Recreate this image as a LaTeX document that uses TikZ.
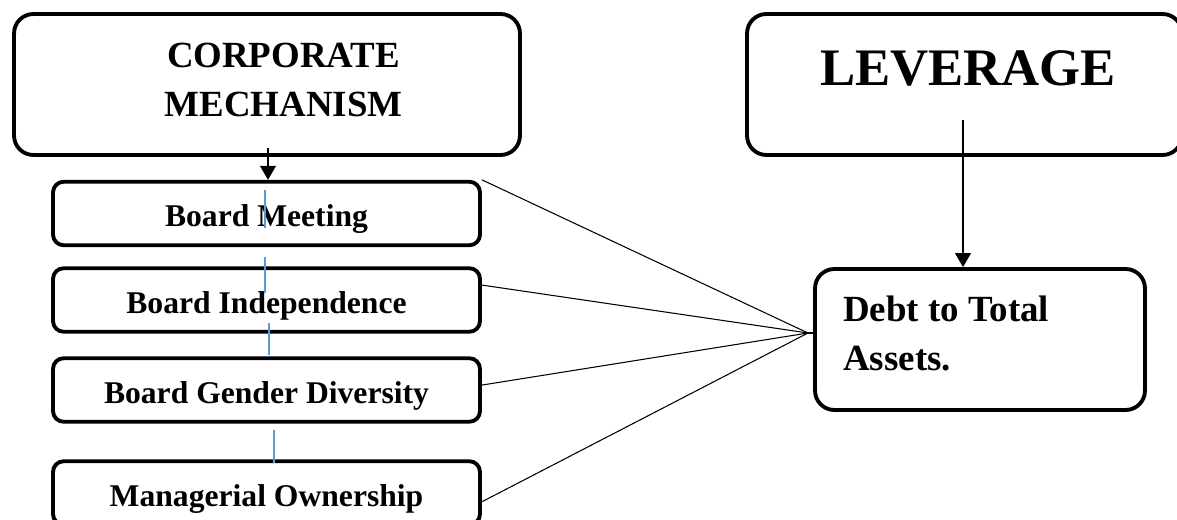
\documentclass[tikz,border=0pt]{standalone}
\usepackage{fontspec}
\setmainfont{Liberation Serif}
\usepackage{xcolor}
\usetikzlibrary{arrows.meta}
\definecolor{guideblue}{RGB}{91,155,213}
\tikzset{
  bigbox/.style={draw,line width=2.2pt,rounded corners=11pt},
  itembox/.style={draw,line width=2.2pt,rounded corners=6pt,minimum width=8.54cm,
    minimum height=1.27cm,inner sep=0pt,text height=15pt,text depth=0pt,
    font=\fontsize{18}{22}\selectfont\bfseries},
  link/.style={line width=0.6pt},
  feed/.style={line width=1.1pt,-{Triangle[width=9pt,length=8pt]}},
  guide/.style={guideblue,line width=0.6pt}
}

\begin{document}
\begin{tikzpicture}[x=0.02cm,y=-0.02cm]
\useasboundingbox (0,0) rectangle (1177,520);
\node[bigbox,minimum width=10.12cm,minimum height=2.82cm] (corp) at (267,84.5) {};
\node[font=\fontsize{21}{28}\selectfont\bfseries,align=center,inner sep=0pt] (corplbl) at (283.5,80) {CORPORATE\\MECHANISM};
\node[bigbox,minimum width=8.7cm,minimum height=2.82cm] (lev) at (964.5,84.5) {};
\node[font=\fontsize{30}{36}\selectfont\bfseries,inner sep=0pt] (levlbl) at (968,68.5) {LEVERAGE};
\node[bigbox,minimum width=6.6cm,minimum height=2.82cm] (debt) at (980,339.5) {};
\node[font=\fontsize{21}{28}\selectfont\bfseries,align=left,inner sep=0pt,anchor=west] (debtlbl) at (843,333.5) {Debt to Total\\Assets.};
\node[itembox] (bm) at (266.5,213.5) {Board Meeting};
\node[itembox] (bi) at (266.5,300) {Board Independence};
\node[itembox] (bg) at (266.5,390) {Board Gender Diversity};
\node[itembox] (mo) at (266.5,493) {Managerial Ownership};
\coordinate (corpfoot) at (268,148);
\coordinate (levfoot) at (963,120);
\coordinate (meet) at (808,333);
\draw[feed] (corpfoot) -- (bm.north -| corpfoot);
\draw[feed] (levfoot) -- (debt.north -| levfoot);
\draw[guide] (265,190) -- (265,228);
\draw[guide] (265,257) -- (265,293);
\draw[guide] (269,323) -- (269,355);
\draw[guide] (274,430) -- (274,463);
\draw[link] (bm.north east) -- (meet);
\draw[link] ([yshift=8.5pt]bi.east) -- (meet);
\draw[link] ([yshift=2.8pt]bg.east) -- (meet);
\draw[link] ([yshift=-5pt]mo.east) -- (meet);
\draw[link] (meet) -- (debt.west |- meet);
\end{tikzpicture}
\end{document}
